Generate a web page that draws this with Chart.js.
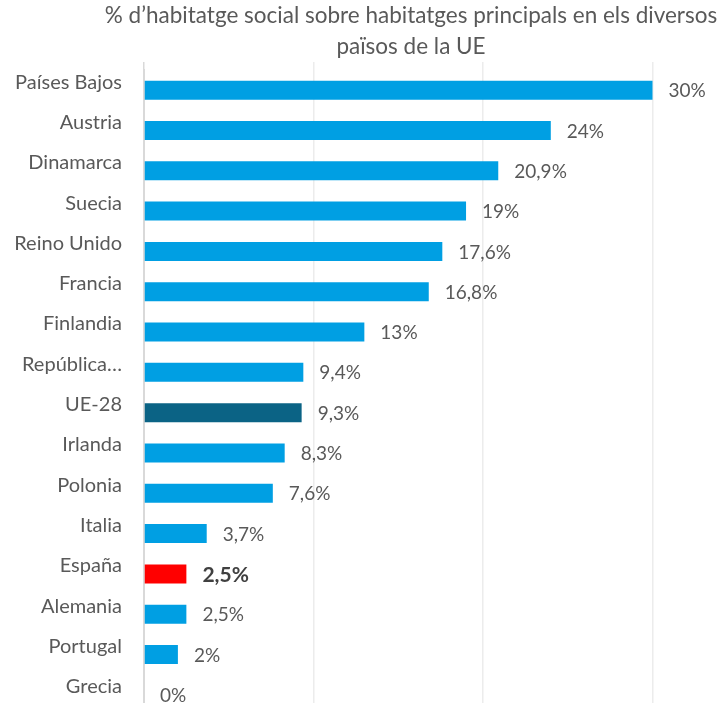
<!DOCTYPE html>
<html>
<head>
<meta charset="utf-8">
<script src="https://cdn.jsdelivr.net/npm/chart.js@4/dist/chart.umd.min.js"></script>
<style>
html, body { margin: 0; padding: 0; overflow: hidden; background: #ffffff; }
canvas { display: block; }
</style>
</head>
<body>
<canvas id="c" width="836" height="749"></canvas>
<script>
const categories = ["Países Bajos", "Austria", "Dinamarca", "Suecia", "Reino Unido", "Francia", "Finlandia", "República…", "UE-28", "Irlanda", "Polonia", "Italia", "España", "Alemania", "Portugal", "Grecia"];
const values = [30, 24, 20.9, 19, 17.6, 16.8, 13, 9.4, 9.3, 8.3, 7.6, 3.7, 2.5, 2.5, 2, 0];
const barColors = ["#009FE3", "#009FE3", "#009FE3", "#009FE3", "#009FE3", "#009FE3", "#009FE3", "#009FE3", "#0B6385", "#009FE3", "#009FE3", "#009FE3", "#FF0000", "#009FE3", "#009FE3", "#009FE3"];
const highlighted = ["España"];
const xTicks = [0, 10, 20, 30, 40];
const titleLines = ["% d’habitatge social sobre habitatges principals en els diversos", "països de la UE"];

const FONT = "Lato, 'Open Sans', sans-serif";

const valueLabels = {
  id: 'valueLabels',
  afterDatasetsDraw(chart) {
    const ctx = chart.ctx;
    const meta = chart.getDatasetMeta(0);
    ctx.save();
    ctx.textBaseline = 'middle';
    ctx.textAlign = 'left';
    meta.data.forEach((el, i) => {
      const bold = highlighted.includes(categories[i]);
      ctx.font = (bold ? 'bold 21px ' : '19px ') + FONT;
      ctx.fillStyle = bold ? '#404040' : '#595959';
      const txt = String(values[i]).replace('.', ',') + '%';
      ctx.fillText(txt, el.x + 16, el.y + 1);
    });
    ctx.restore();
  }
};

new Chart(document.getElementById('c'), {
  type: 'bar',
  data: {
    labels: categories,
    datasets: [{
      data: values,
      backgroundColor: barColors,
      borderWidth: 0,
      barPercentage: 0.47,
      categoryPercentage: 1
    }]
  },
  options: {
    indexAxis: 'y',
    responsive: false,
    animation: false,
    devicePixelRatio: 1,
    layout: { padding: { left: 0, right: 14, top: 0, bottom: 0 } },
    plugins: {
      legend: { display: false },
      tooltip: { enabled: false },
      title: {
        display: true,
        text: titleLines,
        color: '#595959',
        font: { family: FONT, size: 22.5, weight: 'normal', lineHeight: '31px' },
        padding: { top: 0, bottom: 0 }
      }
    },
    scales: {
      x: {
        position: 'top',
        min: 0,
        max: 40,
        afterBuildTicks: s => { s.ticks = xTicks.map(v => ({ value: v })); },
        ticks: { display: false },
        grid: {
          color: c => c.tick && c.tick.value === 0 ? '#d9d9d9' : '#ececec',
          tickColor: c => c.tick && c.tick.value === 0 ? '#d9d9d9' : '#ececec',
          lineWidth: 1.5,
          tickLength: 8,
          drawTicks: true
        },
        border: { display: false }
      },
      y: {
        afterFit: s => { s.width = 144; },
        ticks: {
          color: '#595959',
          font: { family: FONT, size: 20 },
          padding: 22,
          labelOffset: -8,
          autoSkip: false
        },
        grid: { display: false, drawTicks: false, tickLength: 0 },
        border: { display: true, color: '#d9d9d9', width: 2 }
      }
    }
  },
  plugins: [valueLabels]
});
</script>
</body>
</html>
